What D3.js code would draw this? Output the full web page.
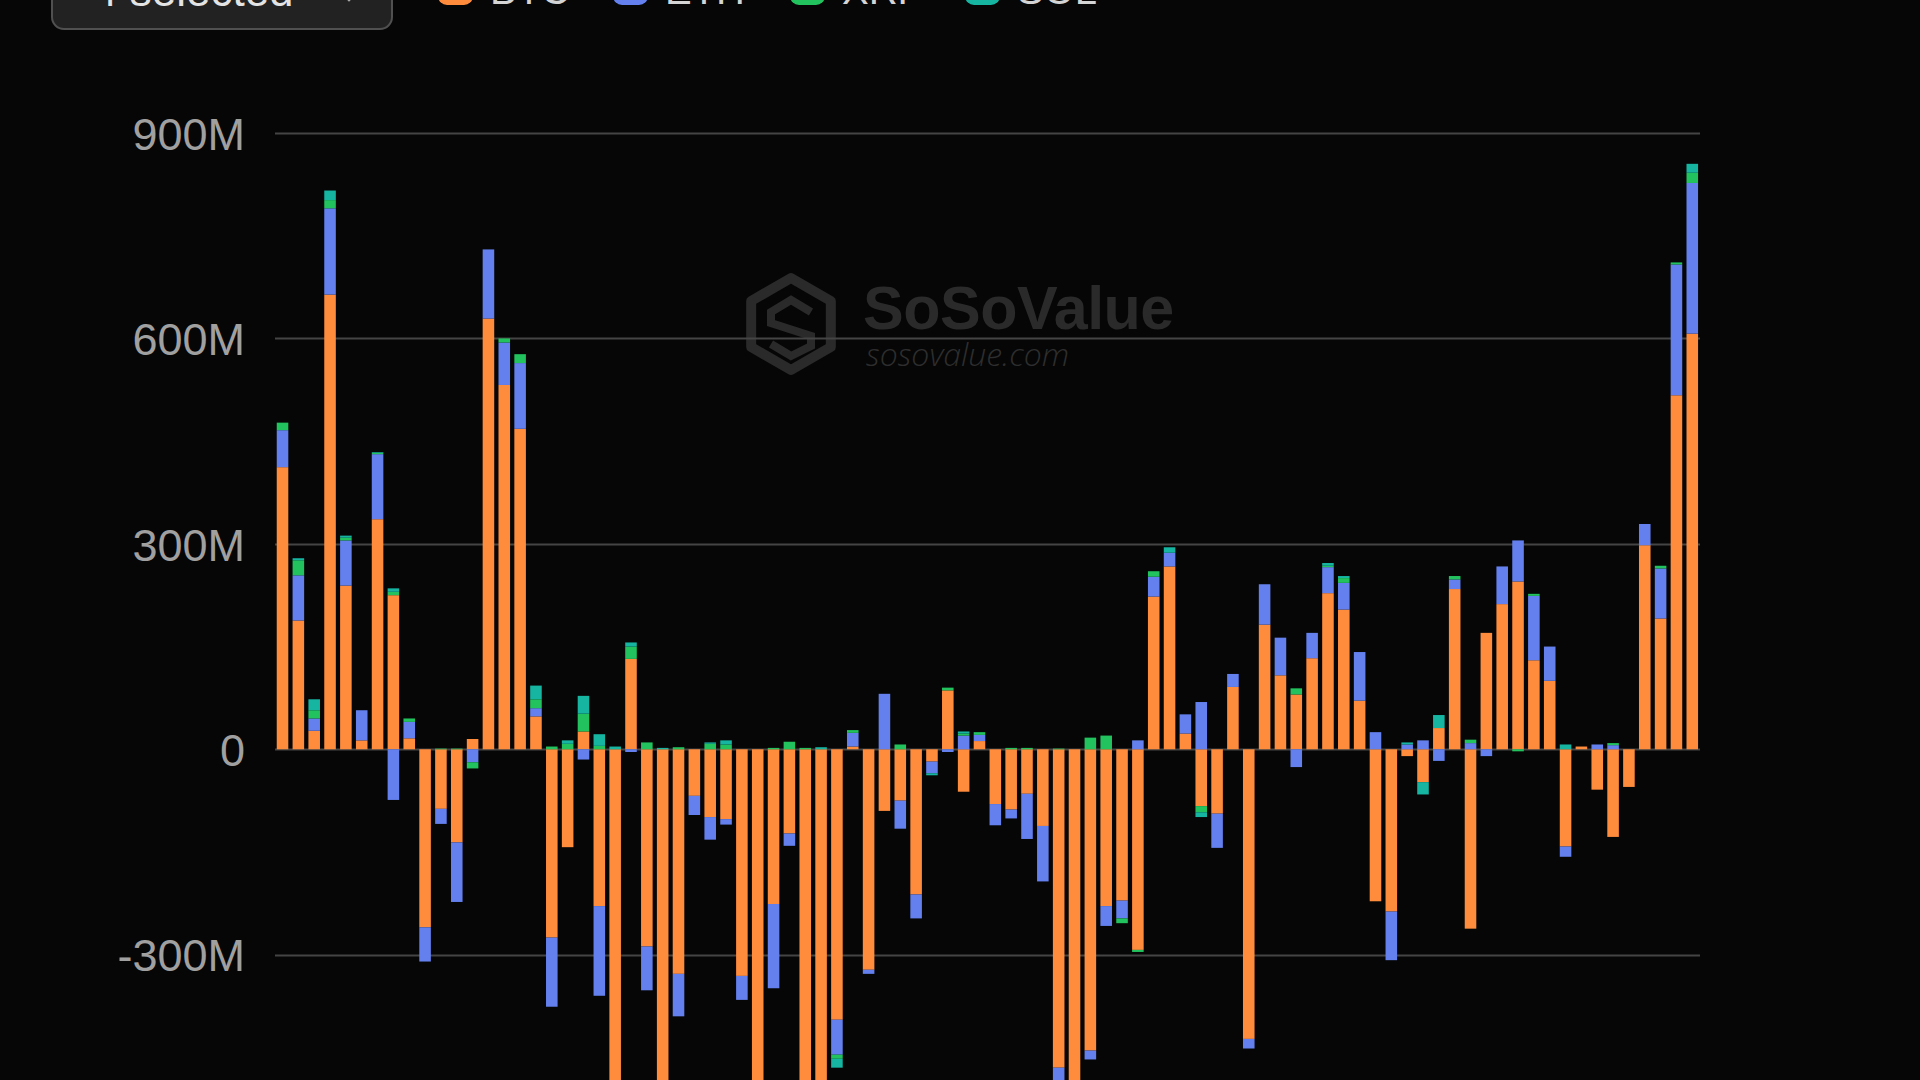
<!DOCTYPE html>
<html>
<head>
<meta charset="utf-8">
<script src="https://cdn.jsdelivr.net/npm/d3@7"></script>
<style>
  html, body { margin: 0; padding: 0; background: #060606; overflow: hidden; }
  svg { display: block; }
</style>
</head>
<body>
<svg id="chart" width="1920" height="1080"></svg>
<script>
// ---------------- DATA (values in millions USD) ----------------
const seriesKeys = ["BTC", "ETH", "XRP", "SOL"];
const seriesColors = ["#ff8c3d", "#6380ee", "#22c35e", "#15b5a2"];
const tickValues = [-300, 0, 300, 600, 900];
const tickLabels = ["-300M", "0", "300M", "600M", "900M"];
const selectorLabel = "4 selected";

const btc = [412,188,27,664,239,13,336,225,16,-260,
  -87,-136,15,629,532,468,48,-275,-143,26,
  -229,-560,132,-288,-600,-328,-68,-99,-102,-331,
  -580,-226,-123,-620,-560,-395,4,-322,-90,-75,
  -212,-18,86,-62,12,-80,-88,-65,-112,-465,
  -640,-440,-229,-221,-293,223,267,23,-83,-94,
  91,-423,182,108,80,133,228,204,71,-222,
  -237,-10,-48,31,234,-262,170,212,245,130,
  100,-142,4,-59,-128,-55,298,191,517,607];

const eth = [54,66,18,126,66,44,95,-74,24,-50,
  -22,-87,-19,101,62,96,12,-101,0,-15,
  -131,0,-4,-64,0,-62,-28,-33,-8,-35,
  0,-123,-18,0,0,-51,20,-6,81,-41,
  -35,-17,-4,20,9,-31,-13,-66,-81,-40,
  0,-13,-29,-26,13,29,20,28,69,-50,
  19,-14,59,55,-26,37,38,39,71,25,
  -71,7,13,-17,14,9,-10,55,60,94,
  50,-15,0,7,6,0,31,73,191,220];

const xrp = [11,22,12,12,4,0,2,5,5,0,
  1,1,-9,0,6,13,13,4,8,26,
  5,0,18,10,0,3,0,8,7,0,
  0,2,11,2,0,-6,4,0,0,7,
  0,0,4,3,4,0,2,2,0,1,
  0,17,20,-7,-3,8,0,0,-9,0,
  0,0,0,0,9,0,2,7,0,0,
  0,0,0,0,5,5,0,0,-3,3,
  0,0,0,0,3,0,0,4,3,15];

const sol = [0,3,16,14,3,0,1,5,0,0,
  0,0,0,0,0,0,20,0,5,26,
  17,4,6,0,2,0,0,2,6,0,
  0,0,0,0,3,-13,0,0,0,0,
  0,-3,0,3,0,0,0,0,0,0,
  0,0,0,0,0,0,8,0,-7,0,
  0,0,0,0,0,0,4,3,0,0,
  0,3,-18,19,0,0,0,0,0,0,
  0,7,0,0,0,0,0,0,0,13];

const categories = btc.map((_, i) => "Day " + (i + 1));

// ---------------- BUILD ----------------
const rows = categories.map((c, i) => ({ cat: c, BTC: btc[i], ETH: eth[i], XRP: xrp[i], SOL: sol[i] }));
const svg = d3.select("#chart");
const FONT = "'Liberation Sans', Arial, Helvetica, sans-serif";

const x = d3.scaleBand().domain(categories).range([274.6, 1700.2]).paddingInner(0.27).paddingOuter(0.135);
const y = d3.scaleLinear().domain([-483, 900]).range([1080, 133]);
const color = d3.scaleOrdinal().domain(seriesKeys).range(seriesColors);

// watermark
const wm = svg.append("g").attr("class", "watermark");
const cx = 791, cy = 324, r = 46;
const hex = d3.range(6).map(k => {
  const a = (Math.PI / 180) * (-90 + 60 * k);
  return [cx + r * Math.cos(a), cy + r * Math.sin(a)];
});
wm.append("path")
  .attr("d", "M" + hex.map(p => p.join(",")).join("L") + "Z")
  .attr("fill", "none").attr("stroke", "#2a2a2a").attr("stroke-width", 10).attr("stroke-linejoin", "round");
wm.append("path")
  .attr("d", `M${cx+20},${cy-12} L${cx},${cy-24} L${cx-20},${cy-12} L${cx-20},${cy-1} L${cx+20},${cy+12} L${cx+20},${cy+22} L${cx},${cy+32} L${cx-20},${cy+20}`)
  .attr("fill", "none").attr("stroke", "#2a2a2a").attr("stroke-width", 8).attr("stroke-linejoin", "miter");
wm.append("text").attr("x", 863).attr("y", 329)
  .attr("font-family", FONT).attr("font-weight", 700).attr("font-size", 61)
  .attr("letter-spacing", -0.5).attr("fill", "#2a2a2a").text("SoSoValue");
wm.append("text").attr("x", 866).attr("y", 366)
  .attr("font-family", "'Open Sans', sans-serif").attr("font-style", "italic").attr("font-weight", 300)
  .attr("font-size", 32).attr("fill", "#2e2e2e").text("sosovalue.com");

// gridlines + y labels via axis
const yAxis = d3.axisLeft(y).tickValues(tickValues)
  .tickFormat((d, i) => tickLabels[i]).tickSize(0).tickPadding(0);
const gAxis = svg.append("g").attr("transform", "translate(245,0)").call(yAxis);
gAxis.select(".domain").remove();
gAxis.selectAll("text").attr("font-family", FONT).attr("font-size", 45)
  .attr("fill", "#a0a0a0").attr("dy", "0.36em");

svg.append("g").selectAll("line").data(tickValues).join("line")
  .attr("x1", 275).attr("x2", 1700)
  .attr("y1", d => Math.round(y(d)) + 0.5).attr("y2", d => Math.round(y(d)) + 0.5)
  .attr("stroke", "#444").attr("stroke-width", 2);

// stacked bars
const stacked = d3.stack().keys(seriesKeys).offset(d3.stackOffsetDiverging)(rows);
svg.append("g").selectAll("g").data(stacked).join("g")
  .attr("fill", d => color(d.key))
  .selectAll("rect").data(d => d).join("rect")
  .attr("x", d => x(d.data.cat))
  .attr("width", x.bandwidth())
  .attr("y", d => y(Math.max(d[0], d[1])))
  .attr("height", d => Math.abs(y(d[0]) - y(d[1])));

// top selector button (cut off by viewport)
const btn = svg.append("g");
btn.append("rect").attr("x", 52).attr("y", -40).attr("width", 340).attr("height", 69)
  .attr("rx", 12).attr("fill", "#222").attr("stroke", "#505050").attr("stroke-width", 2);
btn.append("text").attr("x", 93).attr("y", 6).attr("font-family", FONT).attr("font-size", 44)
  .attr("fill", "#e4e4e4").text(selectorLabel);
btn.append("path").attr("d", "M342,-7 L349,0 L356,-7").attr("fill", "none")
  .attr("stroke", "#aaa").attr("stroke-width", 2.5);

// legend (cut off by viewport)
const legendX = [438, 613, 790, 965];
const lg = svg.append("g").selectAll("g").data(seriesKeys).join("g")
  .attr("transform", (d, i) => `translate(${legendX[i]},0)`);
lg.append("rect").attr("x", 0).attr("y", -30).attr("width", 35).attr("height", 35).attr("rx", 9)
  .attr("fill", d => color(d));
lg.append("text").attr("x", 52).attr("y", 4).attr("font-family", FONT).attr("font-size", 40)
  .attr("fill", "#d4d4d4").text(d => d);
</script>
</body>
</html>
